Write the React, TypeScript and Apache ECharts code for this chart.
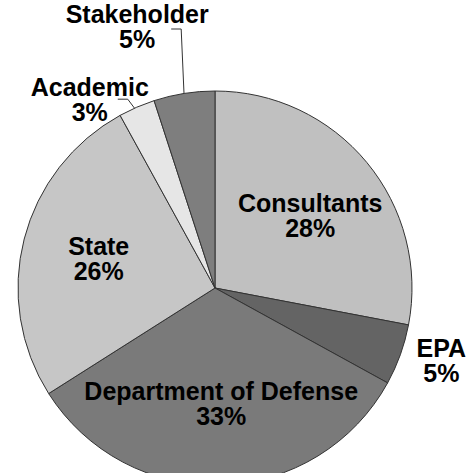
import React, { useEffect, useRef } from "react";
import * as echarts from "echarts";

const categories = ["Consultants", "EPA", "Department of Defense", "State", "Academic", "Stakeholder"];
const shares = [28, 5, 33, 26, 3, 5];
const colors = ["#c0c0c0", "#646464", "#7a7a7a", "#c6c6c6", "#e6e6e6", "#7e7e7e"];
const outsideLabels = ["EPA", "Academic", "Stakeholder"];

export default function App() {
  const ref = useRef<HTMLDivElement>(null);
  useEffect(() => {
    if (!ref.current) return;
    const chart = echarts.init(ref.current, null, { renderer: "svg" });
    const data = categories.map((name, i) => {
      const outside = outsideLabels.includes(name);
      return {
        name,
        value: shares[i],
        itemStyle: { color: colors[i] },
        label: { position: outside ? "outside" : "inside" },
        labelLine: {
          show: outside,
          length: 10,
          length2: 10,
          lineStyle: { color: "#333", width: 1, opacity: name === "EPA" ? 0 : 1 },
        },
      };
    });
    chart.setOption({
      animation: false,
      backgroundColor: "#ffffff",
      series: [
        {
          type: "pie",
          center: [215, 288],
          radius: 197,
          startAngle: 90,
          clockwise: true,
          avoidLabelOverlap: false,
          itemStyle: { borderColor: "#333", borderWidth: 1 },
          label: {
            show: true,
            formatter: (p: any) => `${p.name}\n${p.value}%`,
            fontFamily: "'Liberation Sans', Arial, sans-serif",
            fontWeight: "bold",
            fontSize: 25,
            lineHeight: 25,
            color: "#000",
            align: "center",
          },
          labelLayout: (params: any) => {
            const name = categories[params.dataIndex];
            const pts = params.labelLinePoints;
            if (name === "Consultants") return { dx: 17, dy: -8 };
            if (name === "Department of Defense") return { dx: 3, dy: 14 };
            if (name === "State") return { dx: -18, dy: -4 };
            if (!pts || !pts.length) return {};
            const [x0, y0] = pts[0];
            if (name === "Stakeholder") {
              const ly = 26;
              return {
                x: x0 - 47,
                y: ly,
                align: "center",
                verticalAlign: "middle",
                labelLinePoints: [[x0, y0 + 4], [x0 - 3, ly + 3], [x0 - 13, ly + 3]],
              };
            }
            if (name === "Academic") {
              return {
                x: x0 - 47,
                y: y0 - 8,
                align: "center",
                verticalAlign: "middle",
                labelLinePoints: [[x0, y0 + 4], [x0 - 9, y0 - 8], [x0 - 19, y0 - 8]],
              };
            }
            if (name === "EPA") {
              return {
                x: x0 + 41,
                y: y0 + 6,
                align: "center",
                verticalAlign: "middle",
                labelLinePoints: [[x0, y0], [x0, y0], [x0, y0]],
              };
            }
            return {};
          },
          data,
        },
      ],
    });
    return () => chart.dispose();
  }, []);
  return (
    <div
      ref={ref}
      style={{ position: "fixed", left: 0, top: 0, width: 469, height: 473, background: "#fff" }}
    />
  );
}
